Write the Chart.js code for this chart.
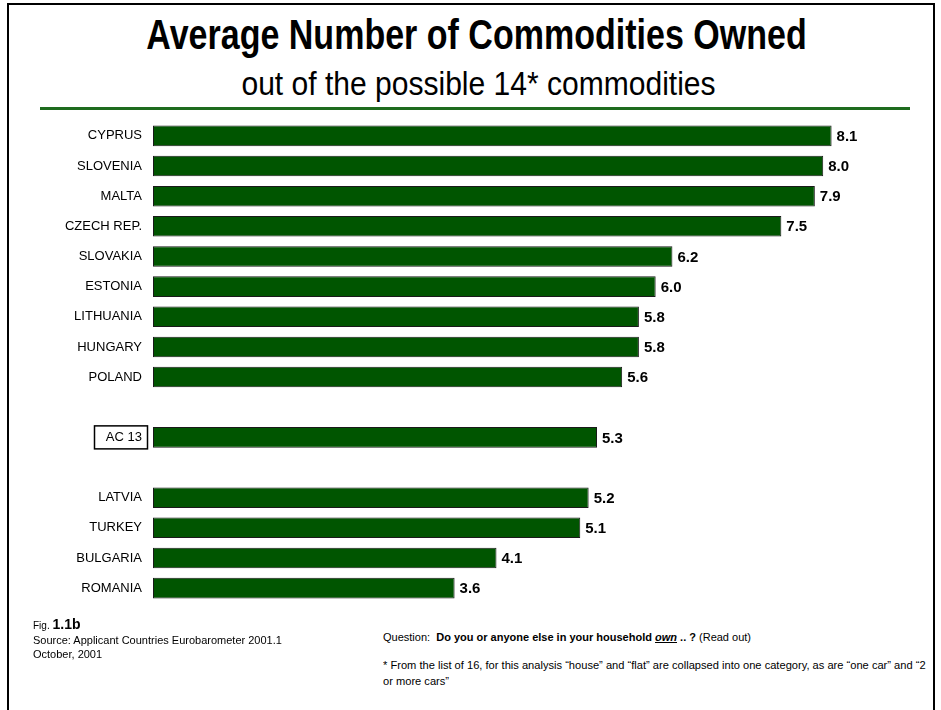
<!DOCTYPE html>
<html>
<head>
<meta charset="utf-8">
<script src="https://cdn.jsdelivr.net/npm/chart.js@4.4.1/dist/chart.umd.min.js"></script>
<style>
  html, body { margin: 0; padding: 0; background: #fff; }
  body { width: 941px; height: 710px; position: relative; overflow: hidden;
         font-family: "Liberation Sans", Arial, sans-serif; color: #000; }
  #frame { position: absolute; left: 7px; top: 3px; width: 928px; height: 760px; border: 2px solid #000; box-sizing: border-box; }
  .head { position: absolute; left: 0; width: 941px; text-align: center; white-space: nowrap; }
  #title { top: 14px; font-size: 42px; line-height: 42px; font-weight: bold; transform: translateX(6px) scaleX(0.81); }
  #subtitle { top: 67px; font-size: 33px; line-height: 33px; transform: translateX(8px) scaleX(0.91); }
  #rule { position: absolute; left: 40px; width: 870px; top: 107px; height: 3px; background: #1e6b1e; }
  #wrap { position: absolute; left: 0; top: 102px; width: 941px; height: 520px; }
  .foot { position: absolute; font-size: 11px; line-height: 14px; white-space: nowrap; }
  .figno { font-size: 10px; }
  .figno b { font-size: 14px; }
  #note { line-height: 16px; transform: scaleX(1.01); transform-origin: 0 0; }
</style>
</head>
<body>
<div id="frame"></div>
<div id="title" class="head">Average Number of Commodities Owned</div>
<div id="subtitle" class="head">out of the possible 14* commodities</div>
<div id="rule"></div>
<div id="wrap"><canvas id="chart"></canvas></div>
<div class="foot figno" style="left:33px; top:617px;">Fig. <b>1.1b</b></div>
<div class="foot" style="left:33px; top:633px;">Source: Applicant Countries Eurobarometer 2001.1<br>October, 2001</div>
<div class="foot" style="left:383px; top:630px;">Question:&nbsp; <b>Do you or anyone else in your household <u><i>own</i></u> .. ?</b> (Read out)</div>
<div id="note" class="foot" style="left:383px; top:657px;">* From the list of 16, for this analysis “house” and “flat” are collapsed into one category, as are “one car” and “2<br>or more cars”</div>
<script>
// Countries in display order; empty strings are spacer rows around the AC 13 average
const countries = ["CYPRUS", "SLOVENIA", "MALTA", "CZECH REP.", "SLOVAKIA", "ESTONIA",
  "LITHUANIA", "HUNGARY", "POLAND", "", "AC 13", "", "LATVIA", "TURKEY", "BULGARIA", "ROMANIA"];
const commodities = [8.1, 8.0, 7.9, 7.5, 6.2, 6.0, 5.8, 5.8, 5.6, null, 5.3, null, 5.2, 5.1, 4.1, 3.6];
const averageLabel = "AC 13";

const FONT = '"Liberation Sans", Arial, sans-serif';

// Writes each bar's value just past its end
const valueLabels = {
  id: 'valueLabels',
  afterDatasetsDraw(chart) {
    const ctx = chart.ctx;
    const meta = chart.getDatasetMeta(0);
    ctx.save();
    ctx.font = 'bold 15px ' + FONT;
    ctx.fillStyle = '#000';
    ctx.textAlign = 'left';
    ctx.textBaseline = 'middle';
    meta.data.forEach((bar, i) => {
      const v = commodities[i];
      if (v === null) return;
      ctx.fillText(v.toFixed(1), bar.x + 5, bar.y + 1);
    });
    ctx.restore();
  }
};

// Draws a box around the average row's category label
const averageBox = {
  id: 'averageBox',
  afterDraw(chart) {
    const idx = countries.indexOf(averageLabel);
    const y = chart.scales.y.getPixelForValue(idx);
    const ctx = chart.ctx;
    ctx.save();
    ctx.strokeStyle = '#000';
    ctx.lineWidth = 1.5;
    ctx.strokeRect(94.5, y - 11.5, 53, 23);
    ctx.restore();
  }
};

new Chart(document.getElementById('chart'), {
  type: 'bar',
  data: {
    labels: countries,
    datasets: [{
      data: commodities,
      backgroundColor: '#005500',
      borderColor: '#1a1a1a',
      borderWidth: 1,
      borderSkipped: false,
      categoryPercentage: 1.0,
      barPercentage: 0.68
    }]
  },
  options: {
    indexAxis: 'y',
    responsive: true,
    maintainAspectRatio: false,
    animation: false,
    layout: { padding: { left: 0, right: 34, top: 5, bottom: 8 } },
    plugins: { legend: { display: false }, tooltip: { enabled: false }, title: { display: false } },
    scales: {
      x: {
        display: false,
        min: 0,
        max: 9
      },
      y: {
        grid: { display: false, drawTicks: false },
        border: { display: false },
        ticks: {
          padding: 11,
          color: '#000',
          font: { family: FONT, size: 13 },
          autoSkip: false
        },
        afterFit(scale) { scale.width = 153; }
      }
    }
  },
  plugins: [valueLabels, averageBox]
});
</script>
</body>
</html>
